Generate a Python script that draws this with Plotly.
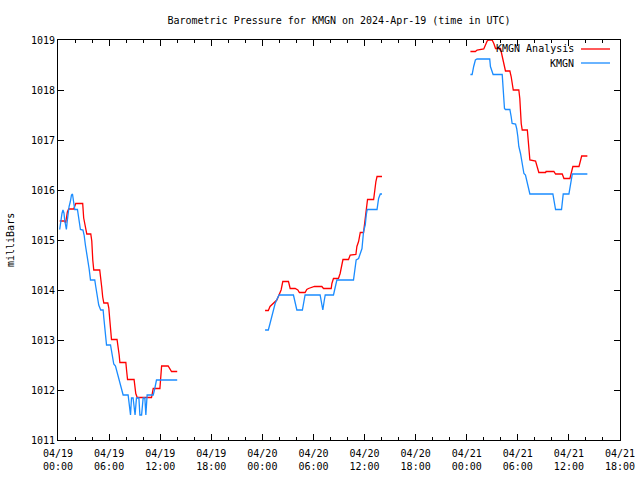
import plotly.graph_objects as go

# ---------------- data ----------------
# KMGN Analysis (red)
ana_d1_t = ["00:12","00:47","00:54","01:06","01:15","01:51","02:05","02:54","03:01","03:15","03:23","03:51","03:58","04:05","04:12","04:54","05:01","05:08","05:15","05:23","05:51","05:58","06:05","06:12","06:17","06:56","07:04","07:11","07:16","07:58","08:03","08:10","08:56","09:01","09:08","09:18","10:59","11:11","11:58","12:10","12:56","13:20","14:00"]
ana_d1_v = [1015.38,1015.38,1015.34,1015.56,1015.62,1015.62,1015.73,1015.73,1015.44,1015.20,1015.12,1015.12,1014.98,1014.60,1014.40,1014.40,1014.26,1014.06,1013.86,1013.74,1013.74,1013.64,1013.40,1013.14,1013.01,1013.01,1012.87,1012.70,1012.55,1012.55,1012.40,1012.21,1012.21,1012.07,1011.93,1011.85,1011.85,1012.03,1012.03,1012.48,1012.48,1012.37,1012.37]
ana_d2_t = ["00:19","00:42","00:54","01:18","01:42","02:12","02:17","02:24","03:04","03:16","03:51","04:10","04:21","05:01","05:13","05:25","06:07","06:59","07:11","08:05","08:10","08:21","08:56","09:08","09:20","09:28","10:07","10:19","10:59","11:06","11:18","11:30","11:53","12:05","12:17","12:21","13:04","13:11","13:20","13:28","14:03"]
ana_d2_v = [1013.59,1013.59,1013.67,1013.73,1013.80,1014.00,1014.10,1014.17,1014.17,1014.03,1014.03,1014.00,1013.95,1013.95,1014.01,1014.03,1014.07,1014.07,1014.03,1014.03,1014.13,1014.23,1014.23,1014.33,1014.50,1014.61,1014.61,1014.70,1014.71,1014.87,1014.97,1015.15,1015.15,1015.43,1015.70,1015.81,1015.81,1016.03,1016.17,1016.27,1016.27]
ana_d3_t = ["00:26","01:01","01:13","02:00","02:12","02:24","02:35","02:59","03:11","03:23","03:58","04:10","04:17","04:26","04:33","05:04","05:13","05:20","05:28","06:07","06:14","06:24","06:31","07:07","07:13","07:20","07:25","08:05","08:17","08:28","09:16","09:19","10:14","10:26","11:13","11:25","12:07","12:19","12:28","13:11","13:23","13:30","14:10"]
ana_d3_v = [1018.77,1018.77,1018.80,1018.82,1018.90,1018.98,1019.00,1019.00,1018.93,1018.83,1018.83,1018.70,1018.57,1018.47,1018.38,1018.38,1018.27,1018.10,1018.00,1018.00,1017.83,1017.33,1017.20,1017.20,1017.00,1016.87,1016.60,1016.58,1016.47,1016.35,1016.35,1016.37,1016.37,1016.32,1016.32,1016.23,1016.23,1016.37,1016.47,1016.47,1016.59,1016.68,1016.68]

# KMGN observations (blue)
obs_d1_t = ["00:12","00:19","00:28","00:35","00:42","00:47","00:59","01:06","01:11","01:18","01:27","01:35","01:42","01:51","01:58","02:17","02:26","02:38","02:56","03:04","03:13","03:23","03:32","03:39","03:49","04:19","04:26","04:35","04:47","05:01","05:18","05:23","05:30","05:37","05:42","06:10","06:17","06:24","06:33","06:45","06:52","07:04","07:16","07:28","07:39","08:14","08:21","08:31","08:38","08:49","09:03","09:13","09:30","09:37","09:49","10:00","10:12","10:19","10:28","11:11","11:22","11:34","14:00"]
obs_d1_v = [1015.21,1015.37,1015.53,1015.60,1015.54,1015.40,1015.21,1015.40,1015.54,1015.67,1015.77,1015.90,1015.92,1015.77,1015.61,1015.61,1015.43,1015.21,1015.20,1015.10,1014.90,1014.73,1014.63,1014.43,1014.20,1014.20,1014.07,1013.87,1013.70,1013.60,1013.60,1013.44,1013.20,1013.00,1012.90,1012.90,1012.80,1012.67,1012.52,1012.48,1012.40,1012.30,1012.17,1012.03,1011.90,1011.90,1011.73,1011.50,1011.84,1011.84,1011.50,1011.84,1011.84,1011.50,1011.50,1011.84,1011.84,1011.50,1011.90,1011.90,1012.03,1012.20,1012.20]
obs_d2_t = ["00:19","00:42","00:54","01:06","01:18","01:30","01:42","01:58","03:39","03:51","04:03","04:42","04:54","05:01","06:47","06:59","07:06","07:15","07:23","08:21","08:33","08:45","10:42","10:49","11:01","11:18","11:30","11:42","11:53","12:05","12:12","12:19","13:28","13:39","13:51","14:03"]
obs_d2_v = [1013.20,1013.20,1013.33,1013.47,1013.60,1013.73,1013.81,1013.90,1013.90,1013.73,1013.60,1013.60,1013.77,1013.90,1013.90,1013.73,1013.60,1013.77,1013.90,1013.90,1014.03,1014.20,1014.20,1014.37,1014.60,1014.63,1014.73,1014.83,1015.17,1015.30,1015.50,1015.61,1015.61,1015.83,1015.92,1015.92]
obs_d3_t = ["00:26","00:38","00:49","01:01","01:13","02:42","02:47","02:59","03:06","04:10","04:17","04:26","04:33","05:04","05:13","05:20","05:44","05:52","06:00","06:07","06:19","06:26","06:35","06:43","06:54","07:07","07:18","07:25","10:07","10:14","10:26","11:08","11:20","12:00","12:12","12:24","14:10"]
obs_d3_v = [1018.31,1018.31,1018.47,1018.60,1018.62,1018.62,1018.47,1018.37,1018.31,1018.31,1018.07,1017.63,1017.61,1017.61,1017.47,1017.33,1017.32,1017.23,1017.07,1016.87,1016.73,1016.60,1016.47,1016.33,1016.30,1016.13,1016.03,1015.92,1015.92,1015.77,1015.61,1015.61,1015.92,1015.92,1016.13,1016.32,1016.32]

days = ["2024-04-19", "2024-04-20", "2024-04-21"]
tick_vals = ["2024-04-19 00:00","2024-04-19 06:00","2024-04-19 12:00","2024-04-19 18:00",
             "2024-04-20 00:00","2024-04-20 06:00","2024-04-20 12:00","2024-04-20 18:00",
             "2024-04-21 00:00","2024-04-21 06:00","2024-04-21 12:00","2024-04-21 18:00"]
tick_text = ["04/19<br>00:00","04/19<br>06:00","04/19<br>12:00","04/19<br>18:00",
             "04/20<br>00:00","04/20<br>06:00","04/20<br>12:00","04/20<br>18:00",
             "04/21<br>00:00","04/21<br>06:00","04/21<br>12:00","04/21<br>18:00"]
series_names = ["KMGN Analysis", "KMGN"]
RED = "#ff0000"
BLUE = "#1a8cff"


def join(segments):
    xs, ys = [], []
    for day, (ts, vs) in zip(days, segments):
        if xs:
            xs.append(None)
            ys.append(None)
        xs += [f"{day} {t}" for t in ts]
        ys += list(vs)
    return xs, ys


ax, ay = join([(ana_d1_t, ana_d1_v), (ana_d2_t, ana_d2_v), (ana_d3_t, ana_d3_v)])
ox, oy = join([(obs_d1_t, obs_d1_v), (obs_d2_t, obs_d2_v), (obs_d3_t, obs_d3_v)])

FONT = "DejaVu Sans Mono"

fig = go.Figure()
fig.add_trace(go.Scatter(x=ax, y=ay, mode="lines", name=series_names[0],
                         line=dict(color=RED, width=1.3), connectgaps=False))
fig.add_trace(go.Scatter(x=ox, y=oy, mode="lines", name=series_names[1],
                         line=dict(color=BLUE, width=1.3), connectgaps=False))

fig.update_layout(
    width=640, height=480,
    margin=dict(l=58, r=20, t=40, b=40, autoexpand=False),
    paper_bgcolor="white", plot_bgcolor="white",
    showlegend=False,
    font=dict(family=FONT, size=10, color="black"),
    title=dict(text="Barometric Pressure for KMGN on 2024-Apr-19 (time in UTC)",
               x=339/640, xref="container", xanchor="center",
               y=1-20/480, yref="container", yanchor="middle",
               font=dict(family=FONT, size=10, color="black")),
)

fig.update_xaxes(
    type="date", automargin=False,
    range=["2024-04-19 00:00", "2024-04-21 18:00"],
    tickvals=tick_vals, ticktext=tick_text,
    ticks="inside", ticklen=6, tickcolor="black", tickwidth=1,
    ticklabelstandoff=4,
    minor=dict(dtick=2*3600*1000, ticks="inside", ticklen=3, tickcolor="black", showgrid=False),
    showline=True, linecolor="black", linewidth=1, mirror="ticks",
    showgrid=False, zeroline=False,
    tickfont=dict(family=FONT, size=10, color="black"),
)
fig.update_yaxes(
    automargin=False,
    range=[1011, 1019], dtick=1, tick0=1011,
    ticks="inside", ticklen=6, tickcolor="black", tickwidth=1,
    showline=True, linecolor="black", linewidth=1, mirror="ticks",
    showgrid=False, zeroline=False,
    tickfont=dict(family=FONT, size=10, color="black"),
)

# y-axis title
fig.add_annotation(text="milliBars", xref="paper", yref="paper",
                   x=(10-58)/562, y=0.5, textangle=-90, showarrow=False,
                   xanchor="center", yanchor="middle",
                   font=dict(family=FONT, size=10, color="black"))

# legend (gnuplot style: right-aligned text, sample line to the right)
for i, (name, col) in enumerate(zip(series_names, [RED, BLUE])):
    yp = (440 - (49 + 14*i)) / 400
    fig.add_annotation(text=name, xref="paper", yref="paper",
                       x=(576-58)/562, y=yp, xanchor="right", yanchor="middle",
                       showarrow=False, font=dict(family=FONT, size=10, color="black"))
    fig.add_shape(type="line", xref="paper", yref="paper",
                  x0=(581-58)/562, x1=(610-58)/562, y0=yp, y1=yp,
                  line=dict(color=col, width=1.3))

fig.write_html("out.html")
